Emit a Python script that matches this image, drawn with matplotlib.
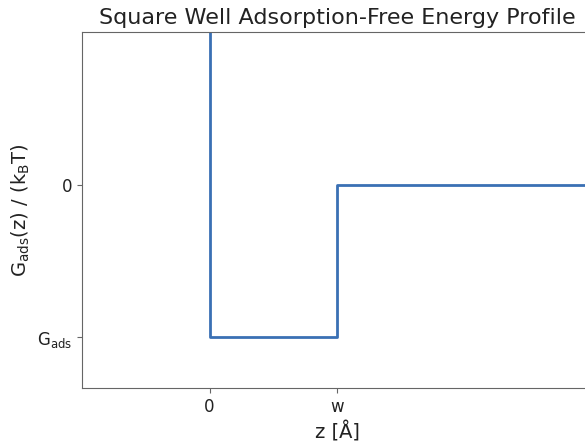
import matplotlib
matplotlib.use("Agg")
import matplotlib.pyplot as plt

plt.rcParams["mathtext.default"] = "regular"
plt.rcParams["font.family"] = ["DejaVu Sans"]

# Square well potential profile: step path (z, G)
z_path = [0, 0, 1, 1, 3.2]
g_path = [3.5, -3, -3, 0, 0]

x_ticks = [0, 1]
x_tick_labels = ["0", "w"]
y_ticks = [-3, 0]
y_tick_labels = ["$G_{ads}$", "0"]

fig = plt.figure(figsize=(5.85, 4.45), dpi=100)
ax = fig.add_axes([82 / 585, 1 - 388 / 445, (592 - 82) / 585, (388 - 32) / 445])

ax.plot(z_path, g_path, color="#3a70b4", linewidth=2)

ax.set_xlim(-1, 3)
ax.set_ylim(-4, 3)
ax.set_xticks(x_ticks)
ax.set_xticklabels(x_tick_labels)
ax.set_yticks(y_ticks)
ax.set_yticklabels(y_tick_labels)

for s in ax.spines.values():
    s.set_color("#666666")
ax.tick_params(colors="#666666", labelcolor="#222222", labelsize=12)

ax.set_xlabel("z [Å]", fontsize=14, color="#222222")
ax.set_ylabel("$G_{ads}(z)$ / $(k_{B}T)$", fontsize=14, color="#222222")
ax.set_title("Square Well Adsorption-Free Energy Profile", fontsize=16, color="#222222")

fig.savefig("out.png", dpi=100)
